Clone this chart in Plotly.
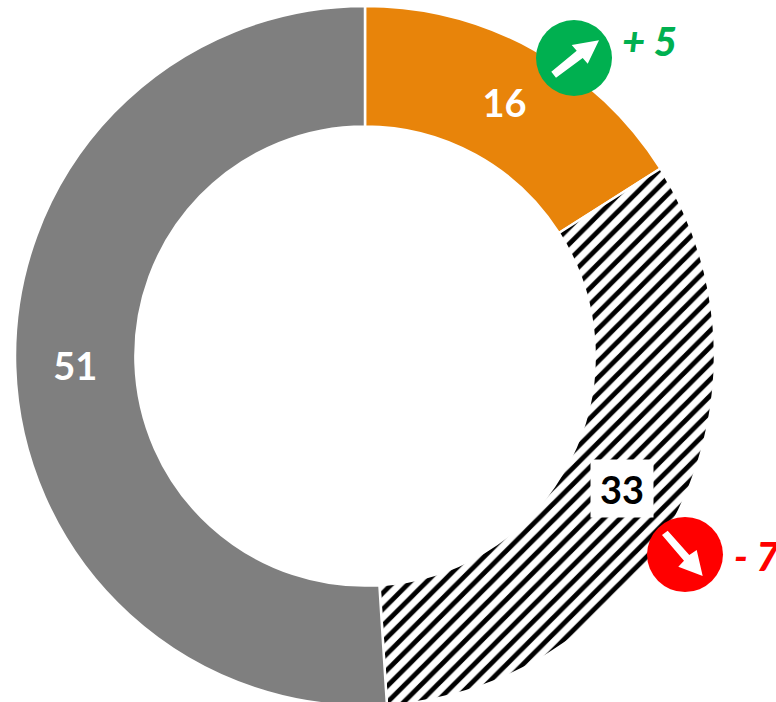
import plotly.graph_objects as go

# Data
categories = ["Orange", "Hachuré", "Gris"]
values = [16, 33, 51]
slice_colors = ["#E8840A", "#FFFFFF", "#7F7F7F"]
label_colors = ["#FFFFFF", "#000000", "#FFFFFF"]
change_labels = ["+ 5", "- 7"]
change_colors = ["#00B050", "#FF0000"]

W, H = 776, 706


def px(x):
    return x / W


def py(y):
    return 1 - y / H


def path(points):
    return "M " + " L ".join(f"{px(x):.5f},{py(y):.5f}" for x, y in points) + " Z"


fig = go.Figure(
    go.Pie(
        labels=categories,
        values=values,
        sort=False,
        direction="clockwise",
        rotation=0,
        hole=0.656,
        domain=dict(x=[px(15), px(715)], y=[0, py(6)]),
        text=[str(values[0]), "", str(values[2])],
        textinfo="text",
        textposition="inside",
        insidetextorientation="horizontal",
        insidetextfont=dict(family="Lato", size=38, weight="bold", color=label_colors),
        marker=dict(
            colors=slice_colors,
            line=dict(color="#FFFFFF", width=2.5),
            pattern=dict(
                shape=["", "/", ""],
                size=11.5,
                solidity=0.42,
                fgcolor="#000000",
                bgcolor="#FFFFFF",
                fillmode="replace",
            ),
        ),
        showlegend=False,
        hoverinfo="label+value",
    )
)


def circle(x0, y0, x1, y1, color):
    return dict(type="circle", xref="paper", yref="paper", x0=px(x0), x1=px(x1),
                y0=py(y0), y1=py(y1), fillcolor=color, line=dict(width=0), layer="above")


def arrow(points):
    return dict(type="path", xref="paper", yref="paper", path=path(points),
                fillcolor="#FFFFFF", line=dict(width=0), layer="above")


shapes = [
    circle(536, 20, 612, 96, change_colors[0]),
    arrow([(551.3, 71.7), (576.7, 50.7), (571.7, 45), (599, 40.3),
           (587.7, 63.7), (582.7, 58), (556, 77.7)]),
    circle(647, 517, 723, 592, change_colors[1]),
    arrow([(662, 535), (667.7, 530.7), (689.3, 555), (696.7, 550),
           (702.7, 576), (678.3, 566.7), (684, 560.7)]),
]

annotations = [
    dict(x=px(620), y=py(41), xref="paper", yref="paper", text=change_labels[0],
         showarrow=False, xanchor="left", yanchor="middle",
         font=dict(family="Lato", size=40, weight=900, style="italic", color=change_colors[0])),
    dict(x=px(732), y=py(556), xref="paper", yref="paper", text=change_labels[1],
         showarrow=False, xanchor="left", yanchor="middle",
         font=dict(family="Lato", size=40, weight=900, style="italic", color=change_colors[1])),
    dict(x=px(622), y=py(489), xref="paper", yref="paper", text=str(values[1]),
         showarrow=False, xanchor="center", yanchor="middle", bgcolor="#FFFFFF",
         width=60, height=55,
         font=dict(family="Lato", size=38, weight="bold", color=label_colors[1])),
]

fig.update_layout(
    width=W,
    height=H,
    margin=dict(l=0, r=0, t=0, b=0),
    paper_bgcolor="#FFFFFF",
    shapes=shapes,
    annotations=annotations,
)

fig.write_html(
    "out.html",
    config=dict(displayModeBar=False),
    post_script="document.documentElement.style.overflow='hidden';document.body.style.overflow='hidden';document.body.style.margin='0';",
)
